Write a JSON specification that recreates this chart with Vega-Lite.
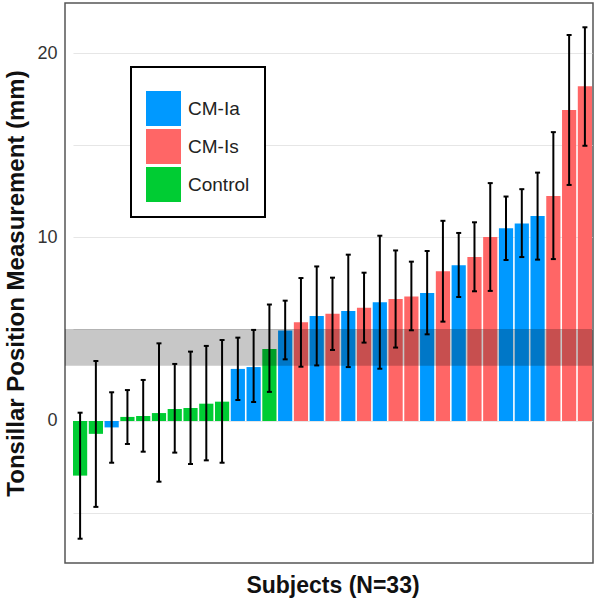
{
  "$schema": "https://vega.github.io/schema/vega-lite/v6.json",
  "width": 528,
  "height": 560,
  "autosize": "none",
  "padding": {"left": 65, "top": 3, "right": 5, "bottom": 39},
  "background": "white",
  "config": {
    "view": {"stroke": "#555555", "strokeWidth": 1.5},
    "font": "Liberation Sans",
    "legend": {"strokeWidth": 2}
  },
  "datasets": {
    "subjects": [
      {"id": 1, "group": "Control", "value": -2.97, "lo": -6.4, "hi": 0.45},
      {"id": 2, "group": "Control", "value": -0.7, "lo": -4.67, "hi": 3.26},
      {"id": 3, "group": "CM-Ia", "value": -0.35, "lo": -2.27, "hi": 1.56},
      {"id": 4, "group": "Control", "value": 0.22, "lo": -1.25, "hi": 1.68},
      {"id": 5, "group": "Control", "value": 0.27, "lo": -1.67, "hi": 2.23},
      {"id": 6, "group": "Control", "value": 0.43, "lo": -3.3, "hi": 4.22},
      {"id": 7, "group": "Control", "value": 0.65, "lo": -1.72, "hi": 3.1},
      {"id": 8, "group": "Control", "value": 0.71, "lo": -2.34, "hi": 3.77},
      {"id": 9, "group": "Control", "value": 0.94, "lo": -2.14, "hi": 4.08},
      {"id": 10, "group": "Control", "value": 1.05, "lo": -2.27, "hi": 4.4},
      {"id": 11, "group": "CM-Ia", "value": 2.83, "lo": 1.14, "hi": 4.53},
      {"id": 12, "group": "CM-Ia", "value": 2.93, "lo": 1.03, "hi": 4.95},
      {"id": 13, "group": "Control", "value": 3.91, "lo": 1.58, "hi": 6.33},
      {"id": 14, "group": "CM-Ia", "value": 4.92, "lo": 3.35, "hi": 6.54},
      {"id": 15, "group": "CM-Is", "value": 5.36, "lo": 2.95, "hi": 7.77},
      {"id": 16, "group": "CM-Ia", "value": 5.71, "lo": 3.02, "hi": 8.4},
      {"id": 17, "group": "CM-Is", "value": 5.83, "lo": 3.86, "hi": 7.79},
      {"id": 18, "group": "CM-Ia", "value": 5.98, "lo": 2.93, "hi": 9.04},
      {"id": 19, "group": "CM-Is", "value": 6.16, "lo": 4.26, "hi": 8.06},
      {"id": 20, "group": "CM-Ia", "value": 6.45, "lo": 2.84, "hi": 10.07},
      {"id": 21, "group": "CM-Is", "value": 6.63, "lo": 3.99, "hi": 9.27},
      {"id": 22, "group": "CM-Is", "value": 6.77, "lo": 4.93, "hi": 8.66},
      {"id": 23, "group": "CM-Ia", "value": 6.96, "lo": 4.71, "hi": 9.24},
      {"id": 24, "group": "CM-Is", "value": 8.14, "lo": 5.4, "hi": 10.88},
      {"id": 25, "group": "CM-Ia", "value": 8.46, "lo": 6.74, "hi": 10.22},
      {"id": 26, "group": "CM-Is", "value": 8.91, "lo": 7.05, "hi": 10.8},
      {"id": 27, "group": "CM-Is", "value": 10.0, "lo": 7.07, "hi": 12.93},
      {"id": 28, "group": "CM-Ia", "value": 10.47, "lo": 8.75, "hi": 12.2},
      {"id": 29, "group": "CM-Ia", "value": 10.74, "lo": 8.91, "hi": 12.6},
      {"id": 30, "group": "CM-Ia", "value": 11.14, "lo": 8.77, "hi": 13.5},
      {"id": 31, "group": "CM-Is", "value": 12.23, "lo": 8.8, "hi": 15.7},
      {"id": 32, "group": "CM-Is", "value": 16.9, "lo": 12.83, "hi": 20.98},
      {"id": 33, "group": "CM-Is", "value": 18.19, "lo": 14.96, "hi": 21.4}
    ],
    "band": [{"lo": 3, "hi": 5}]
  },
  "layer": [
    {
      "data": {"name": "subjects"},
      "mark": {"type": "bar"},
      "encoding": {
        "x": {
          "field": "id", "type": "ordinal",
          "scale": {"range": [8, 527], "paddingInner": 0.1, "paddingOuter": 0},
          "axis": {"labels": false, "ticks": false, "domain": false, "title": "Subjects (N=33)",
                   "titleFontSize": 23, "titleFontWeight": "bold", "titleColor": "#111111", "titlePadding": 11}
        },
        "y": {
          "field": "value", "type": "quantitative",
          "scale": {"domain": [-7.72, 22.72], "nice": false, "zero": false},
          "axis": {
            "values": [-5, 0, 5, 10, 15, 20],
            "labelExpr": "datum.value % 10 === 0 ? datum.label : ''",
            "ticks": false, "domain": false,
            "gridColor": "#e6e6e6", "gridWidth": 1.2,
            "labelFontSize": 18, "labelColor": "#333333", "labelPadding": 8,
            "title": "Tonsillar Position Measurement (mm)",
            "titleFontSize": 24, "titleFontWeight": "bold", "titleColor": "#111111", "titlePadding": 8
          }
        },
        "y2": {"datum": 0},
        "color": {
          "field": "group", "type": "nominal",
          "scale": {"domain": ["CM-Ia", "CM-Is", "Control"], "range": ["#0099ff", "#ff6666", "#00cc33"]},
          "legend": {
            "orient": "none", "legendX": 66, "legendY": 64,
            "title": " ", "titleFontSize": 9, "titlePadding": 0,
            "symbolType": "square", "symbolSize": 1225, "symbolStrokeWidth": 0, "symbolOpacity": 1,
            "labelFontSize": 19, "labelColor": "#222222", "labelOffset": 7, "rowPadding": 3,
            "padding": 15, "strokeColor": "#000000", "fillColor": "white"
          }
        }
      }
    },
    {
      "data": {"name": "band"},
      "mark": {"type": "rect", "color": "#000000", "opacity": 0.22},
      "encoding": {
        "y": {"field": "lo", "type": "quantitative"},
        "y2": {"field": "hi"}
      }
    },
    {
      "data": {"name": "subjects"},
      "mark": {"type": "rule", "color": "#000000", "strokeWidth": 2},
      "encoding": {
        "x": {"field": "id", "type": "ordinal"},
        "y": {"field": "lo", "type": "quantitative"},
        "y2": {"field": "hi"}
      }
    },
    {
      "data": {"name": "subjects"},
      "mark": {"type": "tick", "color": "#000000", "size": 5, "thickness": 2, "opacity": 1},
      "encoding": {
        "x": {"field": "id", "type": "ordinal"},
        "y": {"field": "lo", "type": "quantitative"}
      }
    },
    {
      "data": {"name": "subjects"},
      "mark": {"type": "tick", "color": "#000000", "size": 5, "thickness": 2, "opacity": 1},
      "encoding": {
        "x": {"field": "id", "type": "ordinal"},
        "y": {"field": "hi", "type": "quantitative"}
      }
    }
  ]
}
